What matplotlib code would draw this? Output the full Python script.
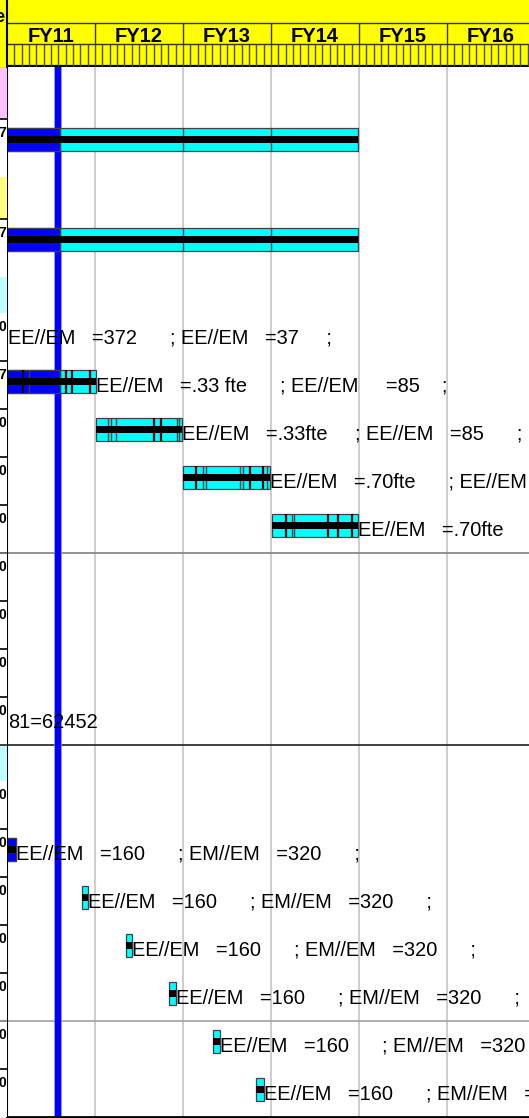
import numpy as np
import matplotlib.pyplot as plt

plt.rcParams['font.family'] = ['Liberation Sans', 'DejaVu Sans']

## Timeline: x is months since start of FY11
fy_labels = ['FY11', 'FY12', 'FY13', 'FY14', 'FY15', 'FY16']
today = 7.0
progress_to = 7.2

## Rows (top to bottom)
row_kind = ['pink', 'task', 'yellow', 'task', 'cyan', 'task',
            'task', 'task', 'task', 'task',
            'task', 'task', 'task', 'task',
            'cyan', 'task',
            'task', 'task', 'task', 'task', 'task', 'task']
row_height = [52, 58, 42, 58, 36, 48,
              48, 48, 48, 48,
              48, 48, 48, 48,
              36, 48,
              48, 48, 48, 48, 48, 48]
row_label = ['', '7', '', '7', '', '0',
             '7', '0', '0', '0',
             '0', '0', '0', '0',
             '', '0',
             '0', '0', '0', '0', '0', '0']

## Bars
bar_row = [1, 3, 6, 7, 8, 9, 16, 17, 18, 19, 20, 21]
bar_start = [0, 0, 0, 12.1, 24.0, 36.1, 0, 10.2, 16.2, 22.1, 28.1, 34.0]
bar_end = [47.8, 47.8, 12.1, 23.9, 35.9, 47.9, 1.2, 11.1, 17.1, 23.05, 29.05, 35.05]
bar_edges = [[24, 36], [24, 36], [3.04],
             [13.8, 14.15, 14.85, 23.2, 23.5],
             [26.75, 27.15, 31.75, 32.15, 35.5],
             [38.8, 39.2],
             [], [], [], [], [], []]
bar_marks = [[], [], [2.14, 8.0, 8.8, 11.3],
             [20.05, 20.95],
             [25.75, 33.15, 34.95],
             [38.05, 43.8, 45.2, 47.0],
             [], [], [], [], [], []]

## Row notes
text_row = [5, 6, 7, 8, 9, 13, 16, 17, 18, 19, 20, 21]
text_x = [0.2, 12.1, 23.9, 35.9, 47.8, 0.2, 1.2, 11.1, 17.1, 23.05, 29.05, 35.05]
text_str = ['EE//EM   =372      ; EE//EM   =37     ;',
            'EE//EM   =.33 fte      ; EE//EM     =85    ;',
            'EE//EM   =.33fte     ; EE//EM   =85      ;',
            'EE//EM   =.70fte      ; EE//EM',
            'EE//EM   =.70fte',
            '81=62452',
            'EE//EM   =160      ; EM//EM   =320      ;',
            'EE//EM   =160      ; EM//EM   =320      ;',
            'EE//EM   =160      ; EM//EM   =320      ;',
            'EE//EM   =160      ; EM//EM   =320      ;',
            'EE//EM   =160      ; EM//EM   =320',
            'EE//EM   =160      ; EM//EM   =']

## separator lines under some rows
sep_row = [9, 13, 19]
sep_color = ['#808080', '#202020', '#a0a0a0']

kind_color = {'pink': '#ffc0ff', 'yellow': '#ffff80', 'cyan': '#c0ffff', 'task': 'white'}

## layout (pixels)
W, H = 529, 1118
x0, hdr = 7, 67
px_month = 88 / 12.0
n_months = (W - x0) / px_month

row_top = hdr + np.concatenate([[0], np.cumsum(row_height)[:-1]])
y_end = hdr + sum(row_height)

fig = plt.figure(figsize=(W / 100, H / 100), dpi=100)

## main chart
ax = fig.add_axes([x0 / W, (H - y_end) / H, (W - x0) / W, (y_end - hdr) / H])
ax.set_xlim(0, n_months)
ax.set_ylim(y_end, hdr)
ax.set_xticks([])
ax.set_yticks([])
for s in ['top', 'right']:
    ax.spines[s].set_visible(False)
ax.spines['left'].set_linewidth(1.5)
ax.spines['bottom'].set_linewidth(2)

for k in range(1, len(fy_labels)):
    ax.axvline(12 * k, color='#c0c0c0', lw=1.1, zorder=0.5)

for r, c in zip(sep_row, sep_color):
    ax.axhline(row_top[r] + row_height[r], color=c, lw=1.2, zorder=0.6)

ax.axvline(today, color='#8080ff', lw=5.4, zorder=1)
ax.axvline(today, color='#0000ff', lw=4.4, zorder=1.1)

for i in range(len(bar_row)):
    top = row_top[bar_row[i]]
    yc = top + 20.5
    s, e = bar_start[i], bar_end[i]
    ax.barh(yc, e - s, left=s, height=23.5, color='#00ffff',
            edgecolor='#404040', lw=0.9, zorder=2)
    edges = list(bar_edges[i])
    if s < progress_to:
        pe = min(e, progress_to)
        ax.barh(yc, pe - s, left=s, height=23.5, color='#0000ff',
                edgecolor='#404040', lw=0.9, zorder=2.1)
        if pe < e:
            edges.append(pe)
    if edges:
        ax.vlines(edges, yc - 11.75, yc + 11.75, color='#404040', lw=1.0, zorder=2.3)
    ax.barh(yc, e - s, left=s, height=7, color='black', lw=0, zorder=2.4)
    if bar_marks[i]:
        ax.vlines(bar_marks[i], yc - 11.75, yc + 11.75, color='black', lw=1.6, zorder=2.5)

for r, xx, t in zip(text_row, text_x, text_str):
    ax.text(xx, row_top[r] + 30.5, t, fontsize=14.4, va='baseline', ha='left',
            color='black', zorder=3)

## left strip (clipped table column)
axl = fig.add_axes([0, 0, x0 / W, 1])
axl.set_xlim(0, x0)
axl.set_ylim(H, 0)
axl.axis('off')
axl.axhspan(0, hdr, color='#ffff00', lw=0)
axl.text(6, 21.5, 'Name', fontsize=13, fontweight='bold', ha='right',
         va='baseline', clip_on=True)
for i in range(len(row_kind)):
    axl.axhspan(row_top[i], row_top[i] + row_height[i], color=kind_color[row_kind[i]], lw=0)
    if row_kind[i] == 'task' and i > 0 and row_kind[i - 1] != 'cyan':
        axl.axhline(row_top[i], color='black', lw=1.2)
    if row_label[i]:
        axl.text(6.6, row_top[i] + 18, row_label[i], fontsize=10, fontweight='bold',
                 ha='right', va='baseline', clip_on=True)
for r, c in zip(sep_row, sep_color):
    axl.axhline(row_top[r] + row_height[r], color=c, lw=1.2)

## header
axh = fig.add_axes([x0 / W, (H - hdr) / H, (W - x0) / W, hdr / H])
axh.set_xlim(0, n_months)
axh.set_ylim(hdr, 0)
axh.set_facecolor('#ffff00')
axh.set_xticks([])
axh.set_yticks([])
for s in ['top', 'right', 'bottom']:
    axh.spines[s].set_visible(False)
axh.spines['left'].set_linewidth(1.5)
axh.hlines([23, 44], 0, n_months, color='#333300', lw=1)
axh.hlines(66.2, 0, n_months, color='black', lw=1.6)
axh.vlines([12 * k for k in range(1, len(fy_labels))], 23, 44, color='#333300', lw=1)
axh.vlines(np.arange(1, int(n_months) + 1), 44, 66, color='#4d4d00', lw=1.0)
for k, lab in enumerate(fy_labels):
    axh.text(12 * k + 6, 42.5, lab, fontsize=14.5, fontweight='bold',
             ha='center', va='baseline')

plt.savefig('out.png', dpi=100)
